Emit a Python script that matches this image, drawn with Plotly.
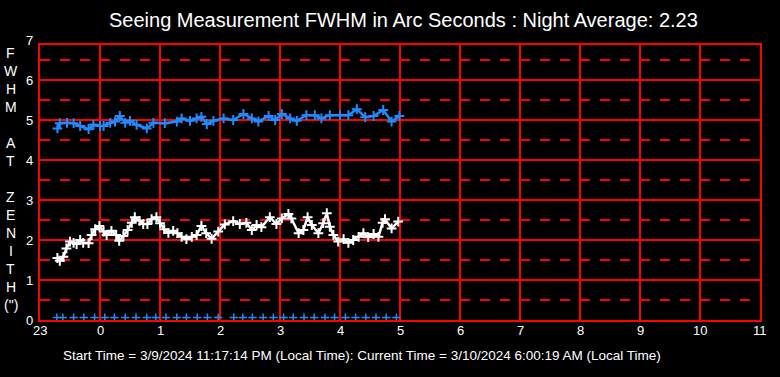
import plotly.graph_objects as go

# ---------------- data ----------------
x_tick_vals = list(range(-1, 12))
x_tick_labels = ["23", "0", "1", "2", "3", "4", "5", "6", "7", "8", "9", "10", "11"]

blue_hours = [-0.71, -0.67, -0.55, -0.44, -0.33, -0.19, -0.11, 0.0, 0.06, 0.17,
              0.25, 0.33, 0.42, 0.5, 0.61, 0.78, 0.89, 1.08, 1.28, 1.36,
              1.5, 1.61, 1.69, 1.78, 1.89, 2.06, 2.22, 2.39, 2.53, 2.64,
              2.81, 2.92, 3.03, 3.17, 3.28, 3.44, 3.58, 3.69, 3.83, 4.0,
              4.14, 4.28, 4.42, 4.56, 4.72, 4.86, 4.99]
blue_fwhm = [4.79, 4.92, 4.93, 4.92, 4.85, 4.77, 4.88, 4.85, 4.85, 4.93,
             4.96, 5.10, 4.93, 4.98, 4.88, 4.79, 4.93, 4.92, 4.96, 5.04,
             4.98, 5.04, 5.08, 4.90, 4.98, 5.04, 5.0, 5.15, 5.04, 4.96,
             5.10, 5.0, 5.15, 5.04, 4.98, 5.12, 5.12, 5.04, 5.12, 5.12,
             5.12, 5.27, 5.07, 5.10, 5.25, 4.96, 5.10]

white_hours = [-0.71, -0.67, -0.61, -0.56, -0.5, -0.44, -0.39, -0.33, -0.28, -0.19,
               -0.14, -0.08, -0.01, 0.06, 0.11, 0.19, 0.27, 0.32, 0.39, 0.46,
               0.53, 0.58, 0.66, 0.72, 0.79, 0.86, 0.94, 1.0, 1.07, 1.14,
               1.22, 1.29, 1.36, 1.44, 1.53, 1.61, 1.69, 1.77, 1.86, 1.97,
               2.08, 2.22, 2.33, 2.44, 2.53, 2.61, 2.69, 2.83, 2.94, 3.03,
               3.14, 3.19, 3.31, 3.39, 3.46, 3.53, 3.64, 3.72, 3.78, 3.83,
               3.89, 3.97, 4.06, 4.14, 4.22, 4.31, 4.39, 4.47, 4.56, 4.64,
               4.71, 4.75, 4.86, 4.97]
white_fwhm = [1.55, 1.48, 1.58, 1.79, 1.96, 1.93, 1.90, 2.0, 1.93, 1.92,
              2.125, 2.27, 2.35, 2.21, 2.125, 2.23, 2.125, 1.98, 2.1, 2.25,
              2.43, 2.57, 2.48, 2.4, 2.4, 2.52, 2.57, 2.42, 2.27, 2.18,
              2.23, 2.17, 2.08, 2.02, 2.08, 2.125, 2.35, 2.17, 2.03, 2.21,
              2.39, 2.47, 2.4, 2.43, 2.25, 2.375, 2.32, 2.57, 2.4, 2.54,
              2.65, 2.54, 2.17, 2.25, 2.57, 2.375, 2.17, 2.42, 2.67, 2.33,
              2.125, 1.96, 2.02, 1.93, 2.0, 2.08, 2.17, 2.07, 2.15, 2.08,
              2.43, 2.52, 2.29, 2.46]

base_hours = [-0.72, -0.62, -0.44, -0.27, -0.09, 0.08, 0.24, 0.42, 0.6, 0.78,
              0.93, 1.1, 1.28, 1.44, 1.62, 1.79, 1.97, 2.23, 2.38, 2.54,
              2.72, 2.89, 3.06, 3.22, 3.4, 3.57, 3.75, 3.91, 4.09, 4.26,
              4.43, 4.6, 4.77, 4.94]
base_vals = [0.06] * len(base_hours)

y_tick_vals = [0, 1, 2, 3, 4, 5, 6, 7]
y_tick_labels = ["0", "1", "2", "3", "4", "5", "6", "7"]

y_letters = ["F", "W", "H", "M", "", "A", "T", "", "Z", "E", "N", "I", "T", "H", "(\")"]

title_text = "Seeing Measurement FWHM in Arc Seconds : Night Average: 2.23"
footer_text = ("Start Time = 3/9/2024 11:17:14 PM (Local Time): "
               "Current Time = 3/10/2024 6:00:19 AM (Local Time)")

# ---------------- figure ----------------
BLUE = "#1E8CFF"
RED = "#FF0000"
FONT = "Liberation Sans, Arial, sans-serif"

W, H = 780, 377
PLOT_L, PLOT_T = 40, 45      # plot frame position on the page
PW, PH = 720, 275
ML, MT = PLOT_L, PLOT_T
MR = W - ML - PW
MB = H - MT - PH
X_MIN, X_MAX = -1, 11
Y_TOP = 6.875


def px2paper(px, py):
    """page pixel -> paper coords"""
    return (px - PLOT_L) / PW, (PLOT_T + PH - py) / PH


fig = go.Figure()
fig.add_trace(go.Scatter(
    x=blue_hours, y=blue_fwhm, mode="lines+markers",
    line=dict(color=BLUE, width=2.5),
    marker=dict(symbol="cross-thin", size=7, line=dict(color=BLUE, width=2)),
    hoverinfo="skip"))
fig.add_trace(go.Scatter(
    x=white_hours, y=white_fwhm, mode="lines+markers",
    line=dict(color="white", width=2.5),
    marker=dict(symbol="cross-thin", size=7, line=dict(color="white", width=2)),
    hoverinfo="skip"))
fig.add_trace(go.Scatter(
    x=base_hours, y=base_vals, mode="markers",
    marker=dict(symbol="cross-thin", size=6, line=dict(color=BLUE, width=1.5)),
    hoverinfo="skip"))

fig.update_layout(
    width=W, height=H,
    margin=dict(l=ML, r=MR, t=MT, b=MB, pad=0, autoexpand=False),
    paper_bgcolor="black", plot_bgcolor="black",
    showlegend=False,
    font=dict(family=FONT, color="white"),
    xaxis=dict(
        range=[X_MIN, X_MAX], tickmode="array", tickvals=x_tick_vals,
        showgrid=True, gridcolor=RED, gridwidth=2, zeroline=False,
        showline=True, linecolor=RED, linewidth=2, mirror=True,
        showticklabels=False, ticks="",
        automargin=False, fixedrange=True),
    yaxis=dict(
        range=[0, Y_TOP], tick0=0, dtick=1,
        showgrid=True, gridcolor=RED, gridwidth=2, zeroline=False,
        showline=True, linecolor=RED, linewidth=2, mirror=True,
        showticklabels=False, ticks="",
        minor=dict(dtick=0.5, tick0=0, showgrid=True, gridcolor=RED, gridwidth=2,
                   griddash="10px,10px"),
        automargin=False, fixedrange=True),
)

annotations = []
# x tick labels
for v, lab in zip(x_tick_vals, x_tick_labels):
    _, yp = px2paper(0, 330)
    annotations.append(dict(text=lab, xref="x", yref="paper", x=v, y=yp,
                            xanchor="center", yanchor="middle", showarrow=False,
                            font=dict(size=13, color="white", family=FONT)))
# y tick labels (7 sits above the frame as in the reference)
for v, lab in zip(y_tick_vals, y_tick_labels):
    xp = (35 - PLOT_L) / PW
    yp = v / Y_TOP
    annotations.append(dict(text=lab, xref="paper", yref="paper", x=xp, y=yp,
                            xanchor="right", yanchor="middle", showarrow=False,
                            font=dict(size=13, color="white", family=FONT)))
for i, ch in enumerate(y_letters):
    if not ch:
        continue
    xp, yp = px2paper(11, 53 + 18 * i)
    annotations.append(dict(text=ch, xref="paper", yref="paper", x=xp, y=yp,
                            xanchor="center", yanchor="middle", showarrow=False,
                            font=dict(size=14, color="white", family=FONT)))
xp, yp = px2paper(403, 20)
annotations.append(dict(text=title_text, xref="paper", yref="paper", x=xp, y=yp,
                        xanchor="center", yanchor="middle", showarrow=False,
                        font=dict(size=20, color="white", family=FONT)))
xp, yp = px2paper(362, 355)
annotations.append(dict(text=footer_text, xref="paper", yref="paper", x=xp, y=yp,
                        xanchor="center", yanchor="middle", showarrow=False,
                        font=dict(size=13.5, color="white",
                                  family="Liberation Sans Narrow, Arial Narrow, sans-serif")))
fig.update_layout(annotations=annotations)

# remove the browser's default 8px page margin so the figure sits at (0, 0)
fig.write_html("out.html",
               config={"displayModeBar": False, "staticPlot": True},
               post_script="document.body.style.margin='0';document.body.style.background='black';")
